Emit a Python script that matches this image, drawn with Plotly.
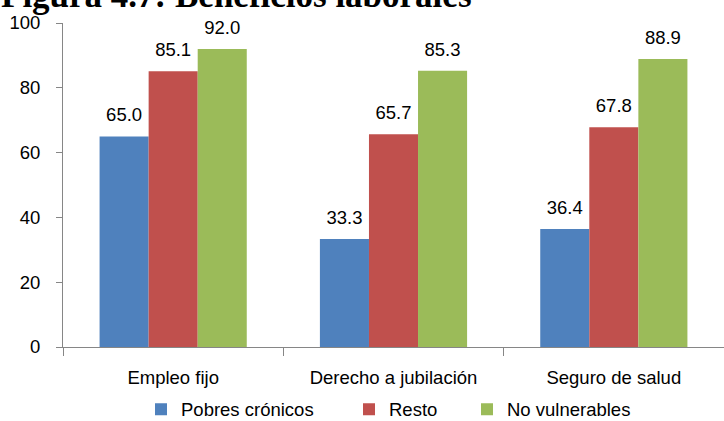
import plotly.graph_objects as go

categories = ["Empleo fijo", "Derecho a jubilación", "Seguro de salud"]
series_names = ["Pobres crónicos", "Resto", "No vulnerables"]
pobres = [65.0, 33.3, 36.4]
resto = [85.1, 65.7, 67.8]
no_vuln = [92.0, 85.3, 88.9]
colors = ["#4F81BD", "#C0504D", "#9BBB59"]
y_ticks = [0, 20, 40, 60, 80, 100]
title_text = "Figura 4.7: Beneficios laborales"

FONT = "Liberation Sans"
FS = 18.5
bargap = 0.332
x_idx = list(range(len(categories)))

fig = go.Figure()
all_series = [pobres, resto, no_vuln]
legend_ids = ["legend", "legend2", "legend3"]
for name, vals, col, lg in zip(series_names, all_series, colors, legend_ids):
    fig.add_trace(go.Bar(x=x_idx, y=vals, name=name, marker=dict(color=col, line=dict(width=0)),
                         hoverinfo="skip", legend=lg))

w = (1 - bargap) / len(all_series)
for j, vals in enumerate(all_series):
    off = (j - (len(all_series) - 1) / 2) * w
    fig.add_trace(go.Scatter(
        x=[i + off for i in x_idx], y=vals, mode="markers+text",
        text=[f"{v:.1f}" for v in vals], textposition="top center",
        textfont=dict(family=FONT, size=FS, color="#000000"),
        marker=dict(size=15, opacity=0), showlegend=False, hoverinfo="skip",
        cliponaxis=False))

leg_common = dict(orientation="h", xref="container", yref="container", y=0.027, yanchor="middle",
                  xanchor="left", font=dict(family=FONT, size=FS), itemwidth=30,
                  bgcolor="rgba(0,0,0,0)")
fig.update_layout(
    width=724, height=421,
    margin=dict(l=63, r=0, t=23, b=74, autoexpand=False),
    paper_bgcolor="white", plot_bgcolor="white",
    barmode="group", bargap=bargap, bargroupgap=0,
    font=dict(family=FONT, size=FS, color="#000000"),
    legend=dict(leg_common, x=141 / 724),
    legend2=dict(leg_common, x=349 / 724),
    legend3=dict(leg_common, x=467 / 724),
    showlegend=True,
)
fig.add_annotation(text=f"<b>{title_text}</b>", xref="paper", yref="paper", x=0, y=1,
                   xanchor="left", yanchor="bottom", xshift=-64, yshift=6, showarrow=False,
                   font=dict(family="Liberation Serif", size=35, color="#000000"))
fig.update_xaxes(
    range=[-0.5, 2.5], tickvals=x_idx, ticktext=categories, ticks="",
    showline=True, linecolor="#868686", linewidth=1, showgrid=False, zeroline=False,
    minor=dict(tick0=0.5, dtick=1, ticks="outside", ticklen=8, tickcolor="#868686", showgrid=False),
    ticklabelstandoff=14, tickfont=dict(family=FONT, size=FS), automargin=False,
)
fig.update_yaxes(
    range=[0, 100], tickvals=y_ticks, ticks="outside", ticklen=6, tickcolor="#868686",
    showline=True, linecolor="#868686", linewidth=1, showgrid=False, zeroline=False,
    ticklabelstandoff=12, tickfont=dict(family=FONT, size=FS), automargin=False,
)
fig.write_html("out.html", config={"displayModeBar": False},
               post_script="document.body.style.margin='0px';")
